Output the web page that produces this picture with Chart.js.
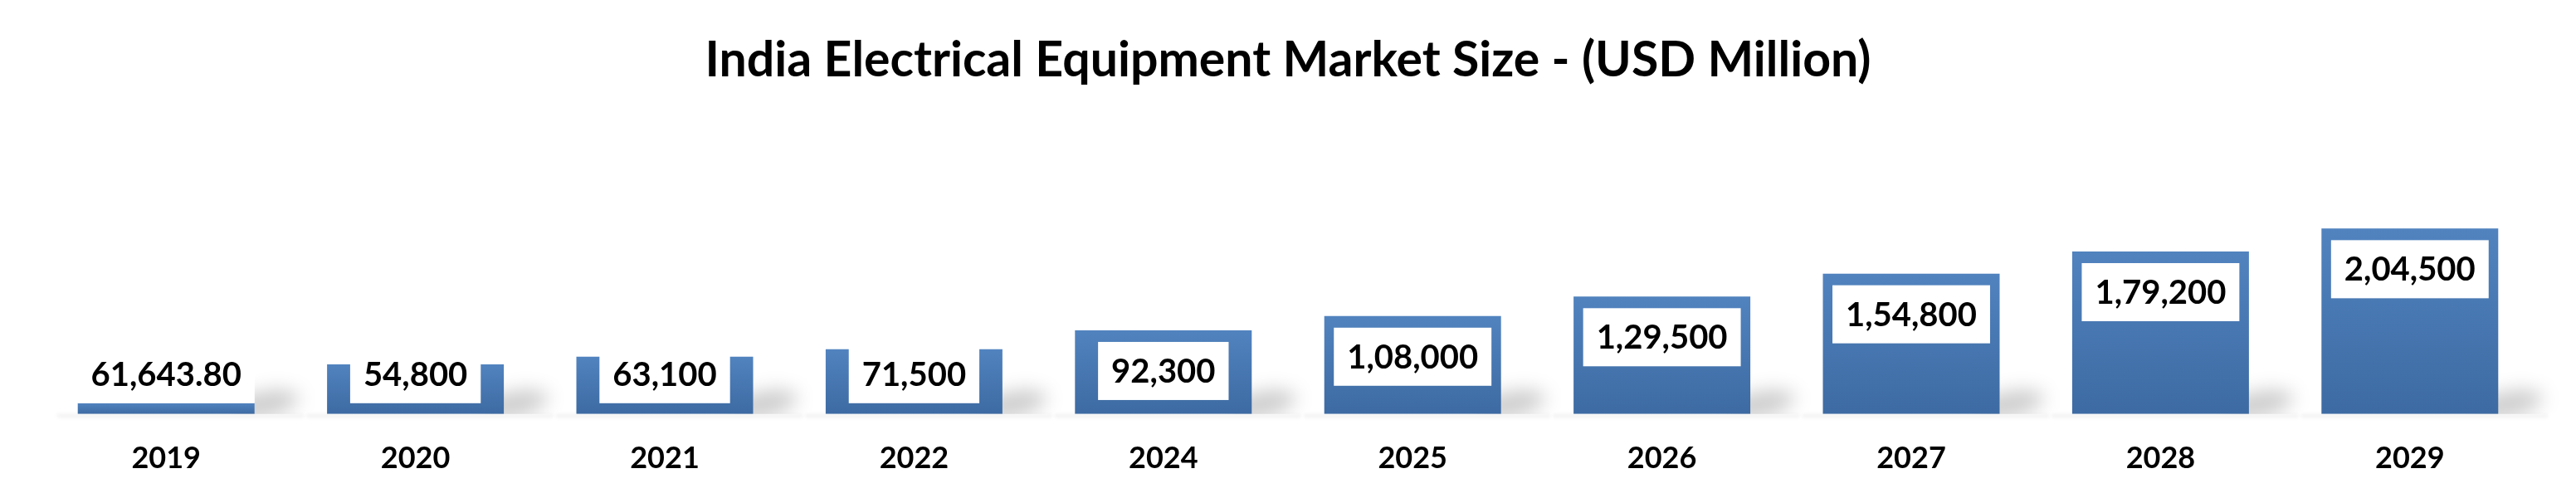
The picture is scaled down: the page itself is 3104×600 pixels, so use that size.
<!DOCTYPE html>
<html>
<head>
<meta charset="utf-8">
<script src="https://cdn.jsdelivr.net/npm/chart.js@4.4.1/dist/chart.umd.min.js"></script>
<style>
  html, body { margin: 0; padding: 0; background: #ffffff; }
  #wrap { width: 3104px; height: 600px; position: relative; }
</style>
</head>
<body>
<div id="wrap"><canvas id="c" width="3104" height="600"></canvas></div>
<script>
const chartTitle = 'India Electrical Equipment Market Size - (USD Million)';
const categories = ['2019', '2020', '2021', '2022', '2024', '2025', '2026', '2027', '2028', '2029'];
// bar heights as drawn in the picture
const barValues = [12100, 54800, 63100, 71500, 92300, 108000, 129500, 154800, 179200, 204500];
// value labels as printed on the picture
const valueLabels = ['61,643.80', '54,800', '63,100', '71,500', '92,300', '1,08,000', '1,29,500', '1,54,800', '1,79,200', '2,04,500'];
const yMax = 331300;

const FONT = 'Lato, "Open Sans", sans-serif';

const shadowPlugin = {
  id: 'barShadow',
  beforeDatasetsDraw(chart) {
    const ctx = chart.ctx;
    const meta = chart.getDatasetMeta(0);
    const base = chart.scales.y.getPixelForValue(0);
    meta.data.forEach(bar => {
      const left = bar.x - bar.width / 2;
      const right = bar.x + bar.width / 2;
      ctx.save();
      ctx.beginPath();
      ctx.rect(left + 20, 0, chart.width, base);
      ctx.clip();
      ctx.filter = 'blur(11px)';
      ctx.fillStyle = 'rgba(0,0,0,0.20)';
      ctx.beginPath();
      ctx.ellipse(right + 12, base - 12, 42, 15, -0.2, 0, Math.PI * 2);
      ctx.fill();
      ctx.restore();
      ctx.save();
      ctx.filter = 'blur(2px)';
      ctx.fillStyle = 'rgba(0,0,0,0.06)';
      ctx.fillRect(left - 25, base, bar.width + 85, 4);
      ctx.restore();
    });
  }
};

const labelPlugin = {
  id: 'boxLabels',
  afterDatasetsDraw(chart) {
    const ctx = chart.ctx;
    const meta = chart.getDatasetMeta(0);
    const base = chart.scales.y.getPixelForValue(0);
    ctx.save();
    ctx.font = 'bold 40px ' + FONT;
    ctx.textAlign = 'center';
    ctx.textBaseline = 'middle';
    meta.data.forEach((bar, i) => {
      const txt = valueLabels[i];
      const w = ctx.measureText(txt).width + 32;
      const h = 70;
      const top = Math.min(bar.y + 14, base - 83);
      ctx.fillStyle = '#ffffff';
      ctx.fillRect(bar.x - w / 2, top, w, h);
      ctx.fillStyle = '#000000';
      ctx.fillText(txt, bar.x, top + h / 2 + 1);
    });
    ctx.restore();
  }
};

new Chart(document.getElementById('c'), {
  type: 'bar',
  data: {
    labels: categories,
    datasets: [{
      data: barValues,
      backgroundColor(context) {
        const chart = context.chart;
        const y = chart.scales && chart.scales.y;
        if (!y || !chart.chartArea) return '#4775b0';
        const v = barValues[context.dataIndex];
        const top = y.getPixelForValue(v);
        const base = y.getPixelForValue(0);
        if (!isFinite(top) || !isFinite(base) || base - top < 1) return '#3f6ca4';
        const g = chart.ctx.createLinearGradient(0, top, 0, base);
        g.addColorStop(0, '#5183bf');
        g.addColorStop(1, '#3d6aa2');
        return g;
      },
      borderWidth: 0,
      barPercentage: 0.709,
      categoryPercentage: 1.0
    }]
  },
  options: {
    responsive: false,
    animation: false,
    devicePixelRatio: 1,
    layout: { padding: { left: 50, right: 50, top: 0, bottom: 2 } },
    plugins: {
      legend: { display: false },
      tooltip: { enabled: false },
      title: {
        display: true,
        text: chartTitle,
        color: '#000000',
        font: { family: FONT, size: 59, weight: 'bold' },
        padding: { top: 38, bottom: 28 }
      }
    },
    scales: {
      x: {
        grid: { display: false },
        border: { display: false },
        ticks: {
          color: '#000000',
          padding: 24,
          font: { family: FONT, size: 36, weight: 'bold' }
        }
      },
      y: {
        display: false,
        min: 0,
        max: yMax
      }
    }
  },
  plugins: [shadowPlugin, labelPlugin]
});
</script>
</body>
</html>
